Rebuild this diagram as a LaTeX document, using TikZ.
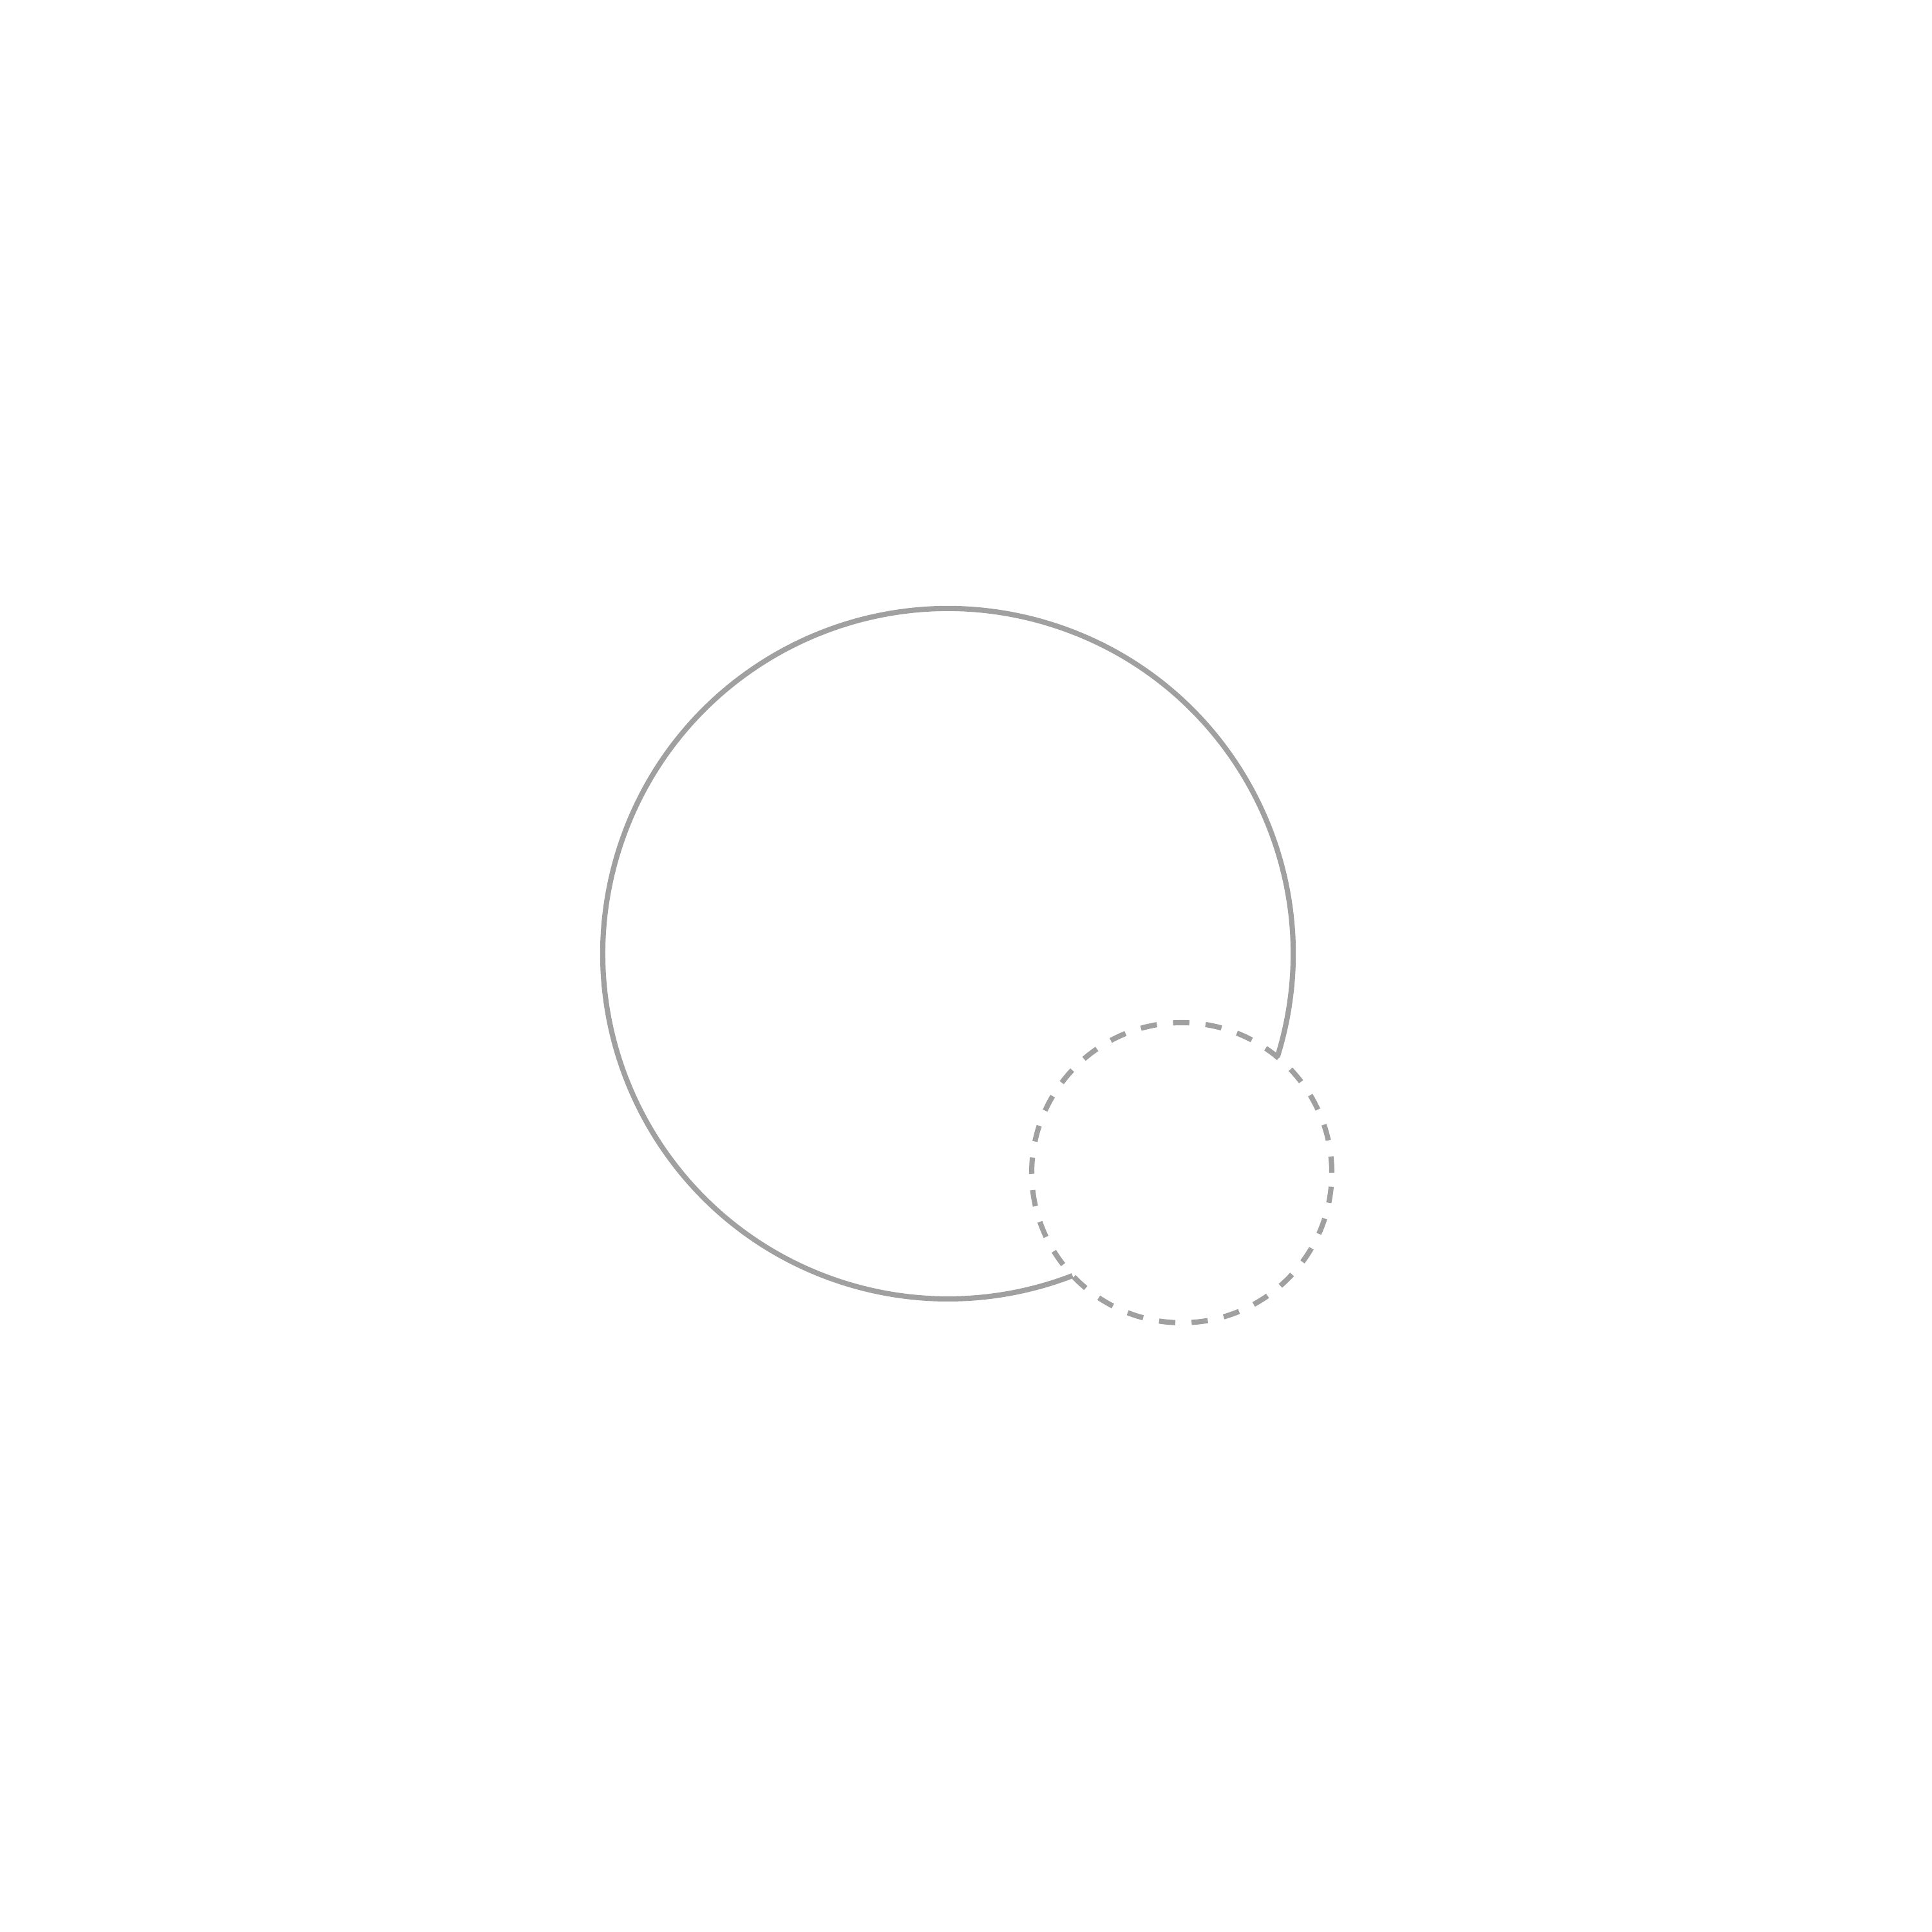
\documentclass[tikz,border=0pt]{standalone}
\definecolor{linegray}{HTML}{A0A0A0}
\begin{document}
\begin{tikzpicture}
\tikzset{
  solidring/.style={draw=linegray, line width=2.3pt},
  dashring/.style={draw=linegray, line width=2.3pt, dash pattern=on 7.2pt off 7.2pt}
}
\useasboundingbox (0,0) rectangle (30,30);
\coordinate (bigc) at (14.72,15.19);
\coordinate (smallc) at (18.35,11.79);
% big circle, open where it meets the small circle
\draw[solidring] ([shift={(-17.4:5.36)}]bigc) arc[start angle=-17.4, end angle=291.15, radius=5.36];
% small dashed circle
\draw[dashring] (smallc) circle[radius=2.33];
\end{tikzpicture}
\end{document}
